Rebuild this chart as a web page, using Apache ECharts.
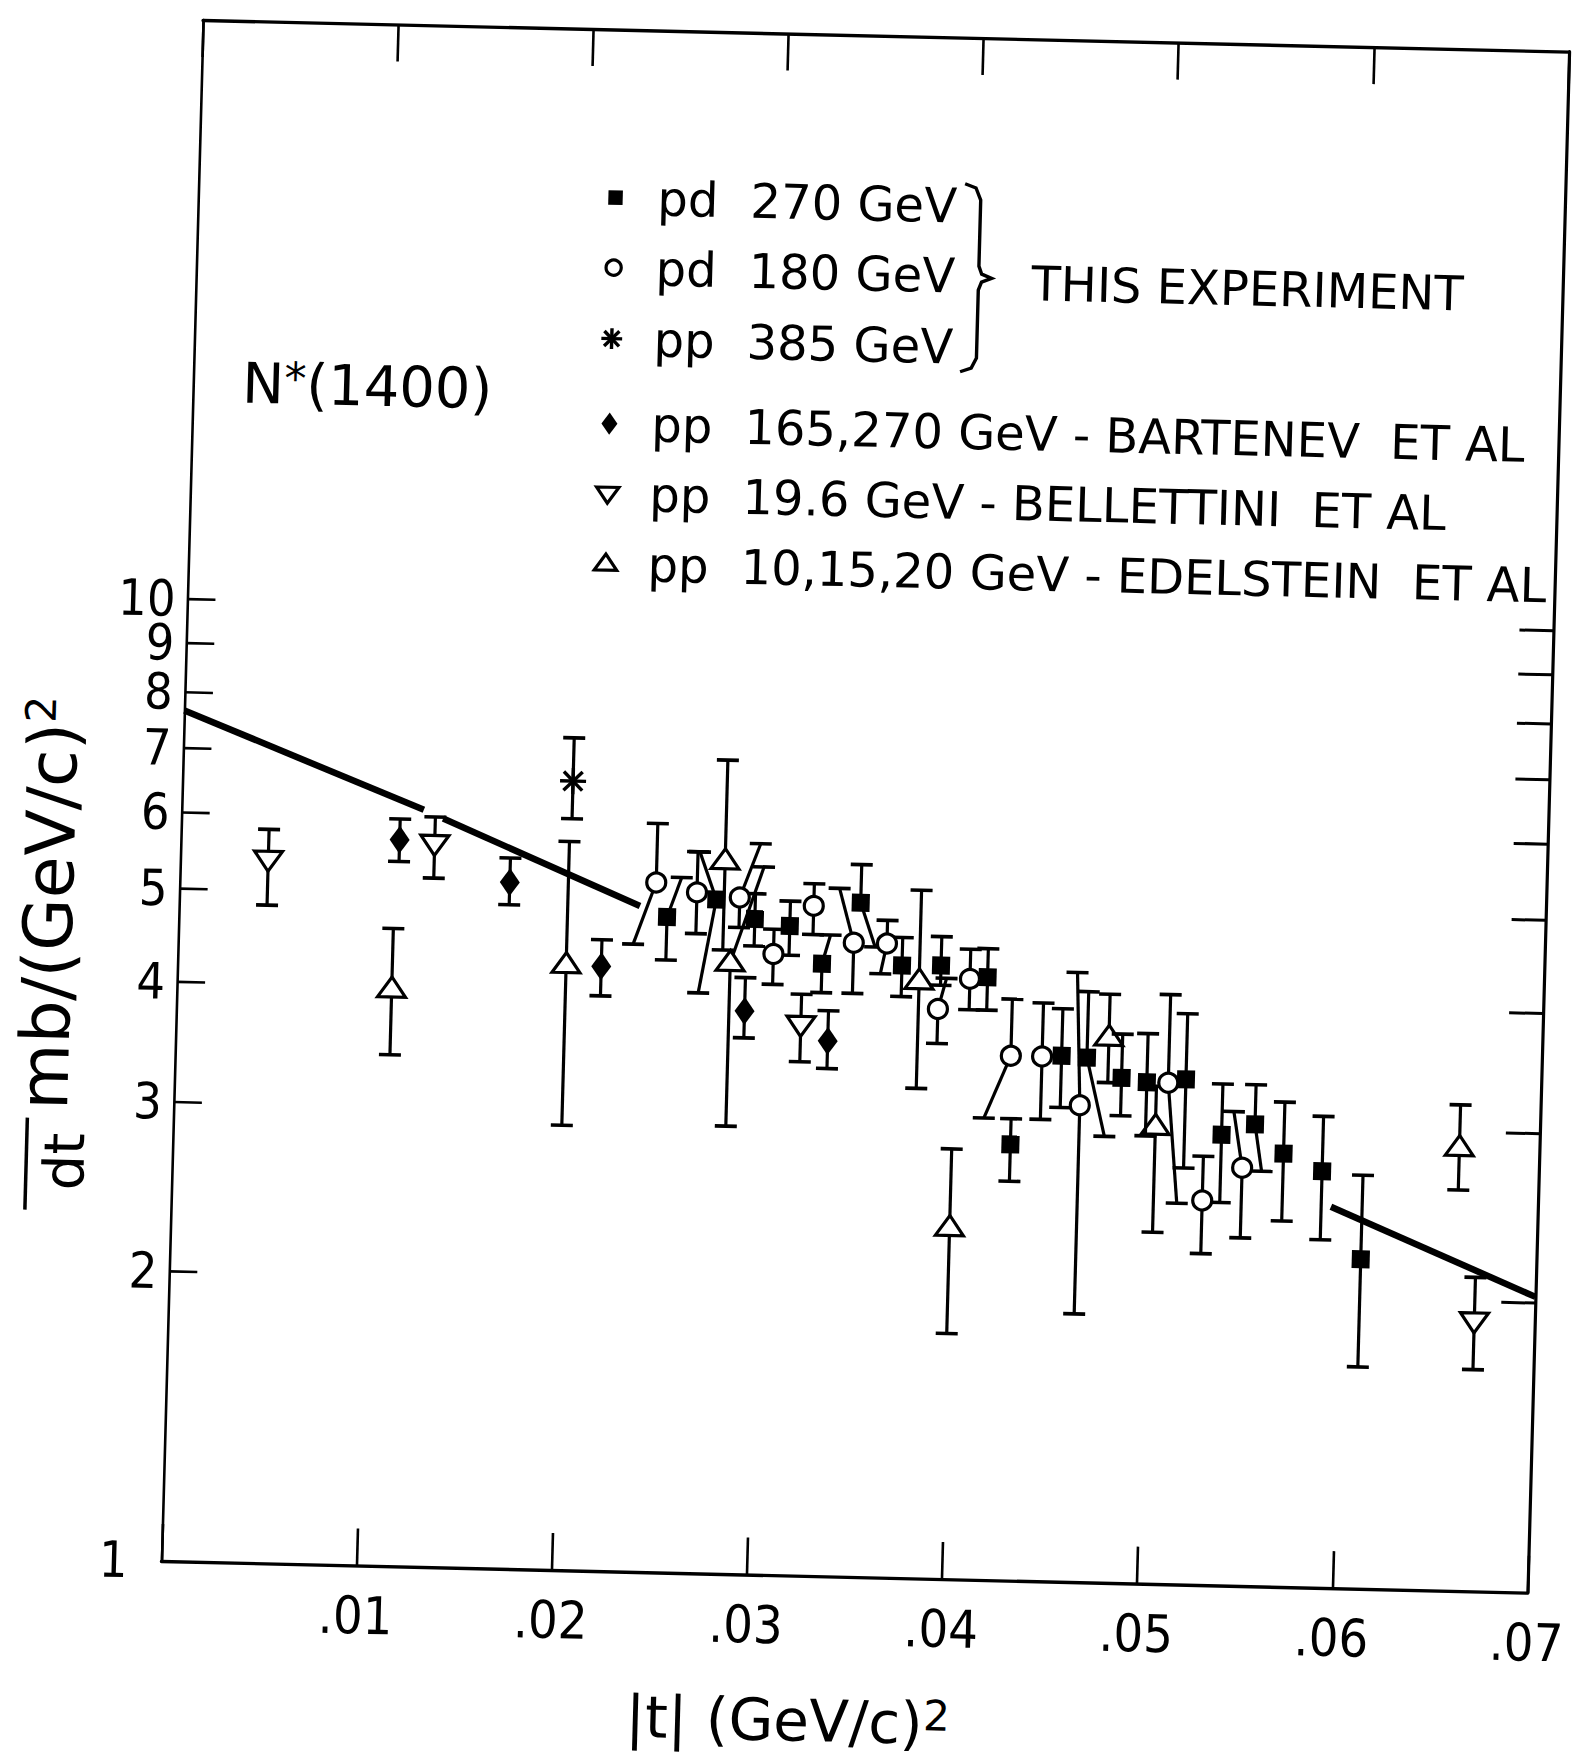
<!DOCTYPE html>
<html>
<head>
<meta charset="utf-8">
<title>N*(1400) dσ/dt</title>
<script src="https://cdn.jsdelivr.net/npm/echarts@6.0.0/dist/echarts.min.js"></script>
<style>
  html, body { margin: 0; padding: 0; background: #fff; overflow: hidden; width: 1574px; height: 1757px; }
  #frame { position: absolute; left: 0; top: 0; width: 1574px; height: 1757px; overflow: hidden; }
  /* the scan is slightly tilted / skewed, so the whole drawing is too */
  #chart { position: absolute; left: 0; top: 0; width: 1640px; height: 1757px; transform-origin: 0 0;
           transform: matrix(1, 0.0232, -0.027, 1, 24, -18.2); }
</style>
</head>
<body>
<div id="frame"><div id="chart"></div></div>
<script>
// axis ticks
const xTickLabels = ['', '.01', '.02', '.03', '.04', '.05', '.06', '.07'];
const yTickValues = [1, 2, 3, 4, 5, 6, 7, 8, 9, 10];
const yTickLabels = ['1', '2', '3', '4', '5', '6', '7', '8', '9', '10'];

// rows: [|t|, dsigma/dt, upper end, lower end, |t| of upper end, |t| of lower end]
// (the last two only where the original drew the bar offset with a slanted leg)
const pd270 = [
  [0.0250, 4.80, 5.28, 4.33, 0.0257],
  [0.0275, 5.02, 5.62, 4.01, 0.0266, 0.0267],
  [0.0295, 4.80, 5.10, 4.50],
  [0.0313, 4.73, 5.02, 4.41],
  [0.0330, 4.33, 4.64, 4.04, 0.0334],
  [0.0349, 5.02, 5.50, 4.52, null, 0.0357],
  [0.0371, 4.33, 4.63, 4.02],
  [0.0391, 4.34, 4.65, 4.14],
  [0.0415, 4.23, 4.53, 3.91],
  [0.0429, 2.84, 3.02, 2.60],
  [0.0454, 3.52, 3.94, 3.11],
  [0.0467, 3.51, 4.11, 2.91, null, 0.0477],
  [0.0485, 3.35, 3.72, 3.06],
  [0.0498, 3.32, 3.73, 2.92],
  [0.0518, 3.35, 3.92, 2.71],
  [0.0537, 2.94, 3.32, 2.50],
  [0.0554, 3.02, 3.32, 2.70, null, 0.0558],
  [0.0569, 2.82, 3.19, 2.40],
  [0.0589, 2.71, 3.09, 2.30],
  [0.0610, 2.20, 2.69, 1.70]
];
const pd180 = [
  [0.0244, 5.21, 6.00, 4.49, null, 0.0233],
  [0.0265, 5.10, 5.62, 4.62],
  [0.0287, 5.05, 5.75, 4.70, 0.0297],
  [0.0305, 4.42, 4.69, 4.11],
  [0.0325, 4.97, 5.24, 4.64],
  [0.0346, 4.56, 5.19, 4.04, 0.0338],
  [0.0363, 4.56, 4.82, 4.24, null, 0.0360],
  [0.0390, 3.91, 4.21, 3.60, 0.0394],
  [0.0406, 4.21, 4.52, 3.91],
  [0.0428, 3.51, 4.02, 3.02, null, 0.0415],
  [0.0444, 3.51, 3.99, 3.02],
  [0.0464, 3.13, 4.30, 1.90, 0.0461],
  [0.0509, 3.32, 4.10, 2.49, null, 0.0515],
  [0.0528, 2.51, 2.79, 2.21],
  [0.0548, 2.72, 3.11, 2.30, 0.0543]
];
const pp385 = [
  [0.0200, 6.61, 7.33, 6.04]
];
const bartenev = [
  [0.0112, 5.69, 5.98, 5.40],
  [0.0169, 5.17, 5.48, 4.90],
  [0.0217, 4.25, 4.53, 3.96],
  [0.0291, 3.85, 4.17, 3.61],
  [0.0334, 3.60, 3.87, 3.37]
];
const bellettini = [
  [0.0045, 5.39, 5.79, 4.83],
  [0.0130, 5.65, 6.02, 5.20],
  [0.0320, 3.74, 4.02, 3.42],
  [0.0669, 1.91, 2.12, 1.70]
];
const edelstein = [
  [0.0110, 3.98, 4.60, 3.40],
  [0.0199, 4.26, 5.72, 2.90],
  [0.0279, 5.51, 7.01, 4.45],
  [0.0283, 4.32, 5.44, 2.92, 0.0299],
  [0.0380, 4.18, 5.19, 3.23],
  [0.0399, 2.32, 2.80, 1.80],
  [0.0478, 3.69, 4.09, 3.31],
  [0.0503, 2.99, 3.29, 2.32],
  [0.0659, 2.89, 3.20, 2.61]
];
// straight (exponential) fit, drawn in three pieces
const fitSegments = [
  [[0, 7.66], [0.0124, 6.12]],
  [[0.0134, 6.00], [0.0236, 4.92]],
  [[0.0594, 2.49], [0.0700, 2.03]]
];

const legendKinds = ['square', 'circle', 'star', 'diamond', 'tridown', 'triup'];
const legendBeams = ['pd', 'pd', 'pp', 'pp', 'pp', 'pp'];
const legendLabels = [
  '270 GeV', '180 GeV', '385 GeV',
  '165,270 GeV - BARTENEV  ET AL',
  '19.6 GeV - BELLETTINI  ET AL',
  '10,15,20 GeV - EDELSTEIN  ET AL'
];

const FONT = '"DejaVu Sans", Verdana, sans-serif';
const NUM_FONT = '"Liberation Sans Narrow", "DejaVu Sans Condensed", "Liberation Sans", sans-serif';
const INK = '#000';

function marker(kind, x, y, k) {
  k = k || 1;
  if (kind === 'square') {
    return [{ type: 'rect', shape: { x: x - 9 * k, y: y - 9 * k, width: 18 * k, height: 18 * k }, style: { fill: INK } }];
  }
  if (kind === 'circle') {
    return [{ type: 'circle', shape: { cx: x, cy: y, r: 9.5 * k }, style: { fill: '#fff', stroke: INK, lineWidth: 3.2 } }];
  }
  if (kind === 'diamond') {
    return [{ type: 'polygon', shape: { points: [[x, y - 14 * k], [x + 10 * k, y], [x, y + 14 * k], [x - 10 * k, y]] }, style: { fill: INK } }];
  }
  if (kind === 'tridown') {
    return [{ type: 'polygon', shape: { points: [[x - 14 * k, y - 8 * k], [x + 14 * k, y - 8 * k], [x, y + 12 * k]] }, style: { fill: '#fff', stroke: INK, lineWidth: 3.2 } }];
  }
  if (kind === 'triup') {
    return [{ type: 'polygon', shape: { points: [[x - 14 * k, y + 8 * k], [x + 14 * k, y + 8 * k], [x, y - 12 * k]] }, style: { fill: '#fff', stroke: INK, lineWidth: 3.2 } }];
  }
  // asterisk
  const r = 13 * k, d = r * 0.72;
  return [[r, 0], [0, r], [d, d], [d, -d]].map(([a, b]) => ({
    type: 'line', shape: { x1: x - a, y1: y - b, x2: x + a, y2: y + b }, style: { stroke: INK, lineWidth: 3.4 }
  }));
}

function errorBarItem(rows, kind) {
  return function (params, api) {
    const r = rows[params.dataIndex];
    const p = api.coord([r[0], r[1]]);
    const ph = api.coord([r[4] == null ? r[0] : r[4], r[2]]);
    const pl = api.coord([r[5] == null ? r[0] : r[5], r[3]]);
    const bar = { stroke: INK, lineWidth: 3.2 };
    const cap = { stroke: INK, lineWidth: 3.6 };
    const children = [
      { type: 'line', shape: { x1: p[0], y1: p[1], x2: ph[0], y2: ph[1] }, style: bar },
      { type: 'line', shape: { x1: p[0], y1: p[1], x2: pl[0], y2: pl[1] }, style: bar },
      { type: 'line', shape: { x1: ph[0] - 11, y1: ph[1], x2: ph[0] + 11, y2: ph[1] }, style: cap },
      { type: 'line', shape: { x1: pl[0] - 11, y1: pl[1], x2: pl[0] + 11, y2: pl[1] }, style: cap }
    ];
    return { type: 'group', children: children.concat(marker(kind, p[0], p[1], 1)) };
  };
}

const datasets = [
  { name: 'pp 10,15,20 GeV', rows: edelstein, kind: 'triup' },
  { name: 'pp 19.6 GeV', rows: bellettini, kind: 'tridown' },
  { name: 'pp 165,270 GeV', rows: bartenev, kind: 'diamond' },
  { name: 'pp 385 GeV', rows: pp385, kind: 'star' },
  { name: 'pd 270 GeV', rows: pd270, kind: 'square' },
  { name: 'pd 180 GeV', rows: pd180, kind: 'circle' }
];

const series = [];

fitSegments.forEach(seg => {
  series.push({
    type: 'line', data: seg, symbol: 'none', silent: true, z: 1,
    lineStyle: { color: INK, width: 6.5 }
  });
});

datasets.forEach(ds => {
  series.push({
    type: 'custom', name: ds.name, silent: true, z: 3,
    data: ds.rows.map(r => [r[0], r[1]]),
    encode: { x: 0, y: 1 },
    renderItem: errorBarItem(ds.rows, ds.kind)
  });
});

// y ticks at 2..10 on both sides, labels on the left
series.push({
  type: 'custom', silent: true, z: 2,
  data: yTickValues.map(v => [0, v]),
  encode: { x: 0, y: 1 },
  renderItem: function (params, api) {
    const v = yTickValues[params.dataIndex];
    const l = api.coord([0, v]);
    const r = api.coord([0.07, v]);
    const children = [{
      type: 'text', x: l[0] - (v === 1 ? 34 : 12), y: l[1],
      style: { text: yTickLabels[params.dataIndex], fontSize: 50, fontFamily: NUM_FONT, fill: INK, align: 'right', verticalAlign: 'middle' }
    }];
    if (v !== 1) {
      children.push(
        { type: 'line', shape: { x1: l[0], y1: l[1], x2: l[0] + 28, y2: l[1] }, style: { stroke: INK, lineWidth: 2.6 } },
        { type: 'line', shape: { x1: r[0] - 34, y1: r[1], x2: r[0], y2: r[1] }, style: { stroke: INK, lineWidth: 3 } }
      );
    }
    return { type: 'group', children: children };
  }
});

// legend, title and axis names
const legendRowY = [202, 272, 343, 428, 498, 568];
const graphics = [];
legendKinds.forEach((kind, i) => {
  const y = legendRowY[i];
  marker(kind, 597, y, 0.8).forEach(el => graphics.push(el));
  graphics.push({ type: 'text', x: 639, y: y, style: { text: legendBeams[i], fontSize: 48, fontFamily: FONT, fill: INK, verticalAlign: 'middle' } });
  graphics.push({ type: 'text', x: 732, y: y, style: { text: legendLabels[i], fontSize: 48, fontFamily: FONT, fill: INK, verticalAlign: 'middle' } });
});
graphics.push({
  type: 'polyline',
  shape: { points: [[946, 180], [957, 184], [962, 196], [962, 262], [965, 270], [975, 274], [965, 278], [962, 286], [962, 354], [957, 364], [946, 368]] },
  style: { stroke: INK, lineWidth: 3.4, fill: null }
});
graphics.push({ type: 'text', x: 1015, y: 278, style: { text: 'THIS EXPERIMENT', fontSize: 48, fontFamily: FONT, fill: INK, verticalAlign: 'middle' } });

graphics.push({
  type: 'text', x: 229, y: 396,
  style: {
    text: '{n|N}{s|*}{n|(1400)}', verticalAlign: 'middle', fill: INK,
    rich: {
      n: { fontSize: 56, fontFamily: FONT, fill: INK },
      s: { fontSize: 44, fontFamily: FONT, fill: INK, verticalAlign: 'top' }
    }
  }
});

graphics.push({
  type: 'text', x: 810, y: 1720,
  style: {
    text: '{n||t| (GeV/c)}{s|2}', align: 'center', verticalAlign: 'middle', fill: INK,
    rich: {
      n: { fontSize: 58, fontFamily: FONT, fill: INK },
      s: { fontSize: 42, fontFamily: FONT, fill: INK, verticalAlign: 'top' }
    }
  }
});

graphics.push({
  type: 'text', x: 50, y: 920, rotation: Math.PI / 2,
  style: {
    text: '{n|mb/(GeV/c)}{s|2}', align: 'center', verticalAlign: 'middle', fill: INK,
    rich: {
      n: { fontSize: 68, fontFamily: FONT, fill: INK },
      s: { fontSize: 42, fontFamily: FONT, fill: INK, verticalAlign: 'top' }
    }
  }
});
graphics.push({
  type: 'text', x: 72, y: 1178, rotation: Math.PI / 2,
  style: { text: 'dt', fontSize: 56, fontFamily: FONT, fill: INK, align: 'center', verticalAlign: 'middle' }
});
graphics.push({ type: 'line', shape: { x1: 34, y1: 1135, x2: 34, y2: 1227 }, style: { stroke: INK, lineWidth: 3.5 } });

const axisLine = { show: true, onZero: false, lineStyle: { color: INK, width: 3.4 } };

const option = {
  animation: false,
  backgroundColor: '#fff',
  grid: { left: 180, right: 94, top: 34, bottom: 182, containLabel: false, outerBoundsMode: 'none' },
  xAxis: [
    {
      type: 'value', position: 'bottom', min: 0, max: 0.07, interval: 0.01,
      axisLine: axisLine,
      axisTick: { show: true, inside: true, length: 37, lineStyle: { color: INK, width: 2.6 } },
      axisLabel: {
        margin: 24, color: INK, fontSize: 52, fontFamily: NUM_FONT,
        formatter: (v) => xTickLabels[Math.round(v * 100)] || ''
      },
      splitLine: { show: false }
    },
    {
      type: 'value', position: 'top', min: 0, max: 0.07, interval: 0.01,
      axisLine: axisLine,
      axisTick: { show: true, inside: true, length: 37, lineStyle: { color: INK, width: 2.6 } },
      axisLabel: { show: false },
      splitLine: { show: false }
    }
  ],
  yAxis: [
    {
      type: 'log', logBase: 10, position: 'left', min: 1, max: 40,
      axisLine: { show: true, onZero: false, lineStyle: { color: INK, width: 2.6 } },
      axisTick: { show: false }, axisLabel: { show: false }, splitLine: { show: false }
    },
    {
      type: 'log', logBase: 10, position: 'right', min: 1, max: 40,
      axisLine: { show: true, onZero: false, lineStyle: { color: INK, width: 3.2 } },
      axisTick: { show: false }, axisLabel: { show: false }, splitLine: { show: false }
    }
  ],
  graphic: { elements: graphics.map(g => Object.assign({ silent: true }, g)) },
  series: series
};

const chart = echarts.init(document.getElementById('chart'), null, { renderer: 'svg' });
chart.setOption(option);
</script>
</body>
</html>
